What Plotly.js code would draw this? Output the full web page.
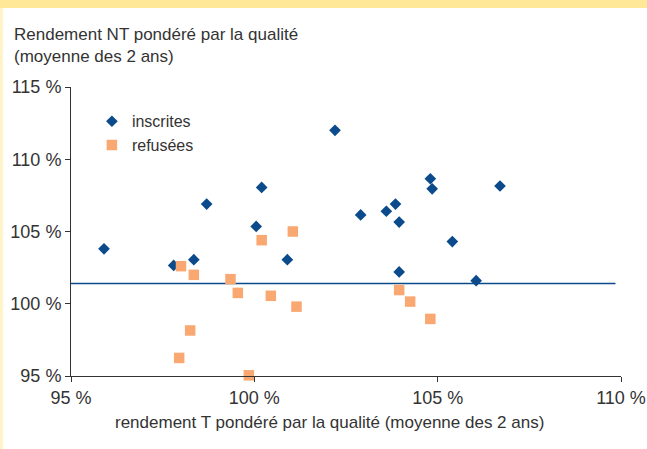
<!DOCTYPE html>
<html>
<head>
<meta charset="utf-8">
<script src="https://cdn.plot.ly/plotly-3.0.1.min.js"></script>
<style>
html,body{margin:0;padding:0;background:#fff;}
#wrap{position:relative;width:647px;height:449px;overflow:hidden;}
#topband{position:absolute;left:0;top:0;width:647px;height:8px;background:#FFE898;}
#leftband{position:absolute;left:0;top:8px;width:3px;height:441px;background:#FFF4C8;}
#chart{position:absolute;left:0;top:0;width:647px;height:449px;}
</style>
</head>
<body>
<div id="wrap">
<div id="chart"></div>
<div id="topband"></div>
<div id="leftband"></div>
</div>
<script>
// inscrites (blue diamonds)
var inscritesX = [95.9, 97.8, 98.35, 98.7, 100.2, 100.05, 100.9, 102.2, 102.9, 103.6, 103.85, 103.95, 103.95, 104.8, 104.85, 105.4, 106.05, 106.7];
var inscritesY = [103.8, 102.65, 103.05, 106.9, 108.05, 105.35, 103.05, 112.0, 106.15, 106.4, 106.9, 105.65, 102.2, 108.65, 107.95, 104.3, 101.6, 108.15];
// refusées (orange squares)
var refuseesX = [98.0, 98.35, 98.25, 97.95, 99.35, 99.55, 100.2, 101.05, 100.45, 101.15, 99.85, 103.95, 104.25, 104.8];
var refuseesY = [102.6, 102.0, 98.15, 96.25, 101.7, 100.75, 104.4, 105.0, 100.55, 99.8, 95.05, 100.95, 100.15, 98.95];
// reference line
var refLineX = [95, 109.85];
var refLineY = [101.4, 101.4];

var xTicks = [95, 100, 105, 110];
var yTicks = [95, 100, 105, 110, 115];
var xTickText = ["95 %", "100 %", "105 %", "110 %"];
var yTickText = ["95 %", "100 %", "105 %", "110 %", "115 %"];

var FONT = "Liberation Sans, Arial, sans-serif";
var TXT = "#333333";

var traces = [
  {x: refLineX, y: refLineY, type: "scatter", mode: "lines", showlegend: false,
   line: {color: "#0B4B8C", width: 1.5}, hoverinfo: "skip"},
  {x: inscritesX, y: inscritesY, type: "scatter", mode: "markers", name: "inscrites",
   marker: {symbol: "diamond", size: 9, color: "#0B4B8C"}, cliponaxis: false},
  {x: refuseesX, y: refuseesY, type: "scatter", mode: "markers", name: "refusées",
   marker: {symbol: "square", size: 10.5, color: "#F8A870"}, cliponaxis: false}
];

var layout = {
  width: 647, height: 449,
  margin: {l: 71, r: 26, t: 87, b: 73},
  paper_bgcolor: "#ffffff", plot_bgcolor: "#ffffff",
  font: {family: FONT, color: TXT, size: 16},
  showlegend: true,
  legend: {x: 0.038, y: 0.94, xanchor: "left", yanchor: "top",
           bgcolor: "rgba(0,0,0,0)", font: {family: FONT, size: 16, color: TXT},
           tracegroupgap: 0, itemwidth: 30},
  xaxis: {range: [95, 110], tickvals: xTicks, ticktext: xTickText,
          showgrid: false, zeroline: false, showline: true, linecolor: "#333",
          linewidth: 1, ticks: "outside", ticklen: 5, tickcolor: "#333",
          tickfont: {family: FONT, size: 18, color: TXT}, fixedrange: true},
  yaxis: {range: [95, 115], tickvals: yTicks, ticktext: yTickText,
          showgrid: false, zeroline: false, showline: true, linecolor: "#333",
          linewidth: 1, ticks: "outside", ticklen: 5, tickcolor: "#333",
          tickfont: {family: FONT, size: 18, color: TXT}, fixedrange: true},
  annotations: [
    {text: "Rendement NT pondéré par la qualité<br>(moyenne des 2 ans)",
     xref: "paper", yref: "paper", x: -0.107, y: 1.0, xanchor: "left", yanchor: "bottom",
     yshift: 19, align: "left", showarrow: false,
     font: {family: FONT, size: 17, color: TXT}},
    {text: "rendement T pondéré par la qualité (moyenne des 2 ans)",
     xref: "paper", yref: "paper", x: 0.47, y: 0, xanchor: "center", yanchor: "top",
     yshift: -35, showarrow: false,
     font: {family: FONT, size: 17, color: TXT}}
  ]
};

Plotly.newPlot("chart", traces, layout, {displayModeBar: false, staticPlot: true});
</script>
</body>
</html>
